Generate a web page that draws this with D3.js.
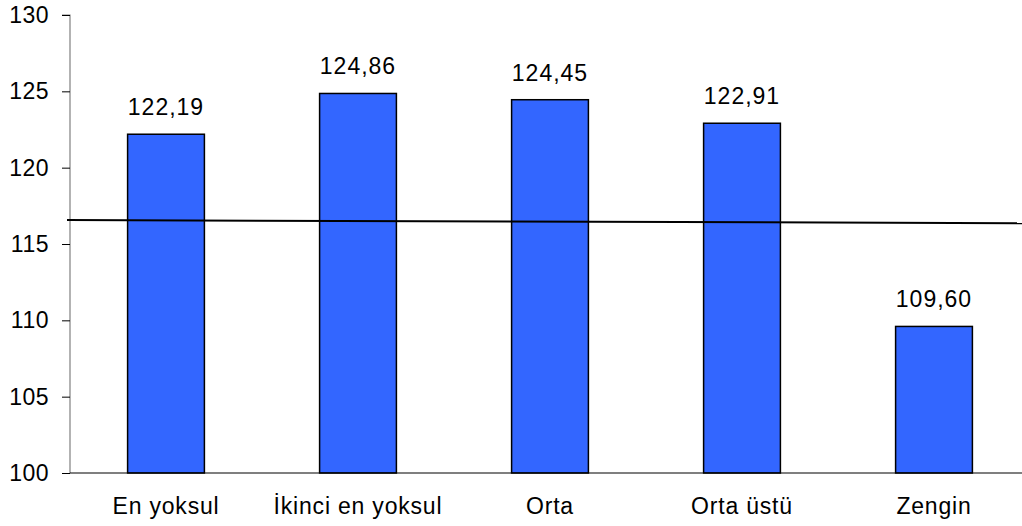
<!DOCTYPE html>
<html><head><meta charset="utf-8">
<script src="https://cdn.jsdelivr.net/npm/d3@7"></script>
<style>
html,body{margin:0;padding:0;background:#fff;}
text{font-family:"Liberation Sans",Arial,sans-serif;fill:#000;}
</style></head>
<body><svg id="c" width="1022" height="526"></svg>
<script>
const categories = ["En yoksul","İkinci en yoksul","Orta","Orta üstü","Zengin"];
const values = [122.19,124.86,124.45,122.91,109.60];
const valueLabels = ["122,19","124,86","124,45","122,91","109,60"];
const yTicks = [100,105,110,115,120,125,130];
const refLine = [116.57,116.36]; // reference line values at left and right ends

(function(){
const svg = d3.select("#c");
const mLeft = 70, mRight = 1030, mTop = 15, mBottom = 473;

const x = d3.scaleBand().domain(categories).range([mLeft,mRight]).paddingInner(0.6).paddingOuter(0.3);
const y = d3.scaleLinear().domain([100,130]).range([mBottom,mTop]);

// y axis
const yAxis = svg.append("g").attr("transform",`translate(${mLeft},0)`)
  .call(d3.axisLeft(y).tickValues(yTicks).tickSize(8).tickPadding(13));
yAxis.select(".domain").attr("stroke","#808080").attr("stroke-width",1.2).attr("d",`M-8,${mTop}H0V${mBottom}`);
yAxis.selectAll(".tick line").attr("stroke","#000");
yAxis.selectAll(".tick text").style("font-size","23px").style("letter-spacing","0.5px").attr("fill","#000");

// bars
svg.append("g").selectAll("rect").data(values).join("rect")
  .attr("x",(d,i)=>x(categories[i]))
  .attr("y",d=>y(d))
  .attr("width",x.bandwidth())
  .attr("height",d=>y(100)-y(d))
  .attr("fill","#3366FF").attr("stroke","#000").attr("stroke-width",1.5);

// x axis line
svg.append("line").attr("x1",mLeft).attr("x2",1022).attr("y1",y(100)).attr("y2",y(100))
  .attr("stroke","#000").attr("stroke-width",1.2);

// category labels
svg.append("g").selectAll("text").data(categories).join("text")
  .attr("x",d=>x(d)+x.bandwidth()/2).attr("y",514)
  .attr("text-anchor","middle").style("font-size","23px").style("letter-spacing","0.8px").text(d=>d);

// value labels
svg.append("g").selectAll("text").data(values).join("text")
  .attr("x",(d,i)=>x(categories[i])+x.bandwidth()/2).attr("y",d=>y(d)-19)
  .attr("text-anchor","middle").style("font-size","23px").style("letter-spacing","1px")
  .text((d,i)=>valueLabels[i]);

// reference line
const xr = d3.scaleLinear().domain([0,1]).range([67,1022]);
svg.append("line")
  .attr("x1",xr(0)).attr("y1",y(refLine[0]))
  .attr("x2",xr(1)).attr("y2",y(refLine[1]))
  .attr("stroke","#000").attr("stroke-width",2);
})();
</script></body></html>
